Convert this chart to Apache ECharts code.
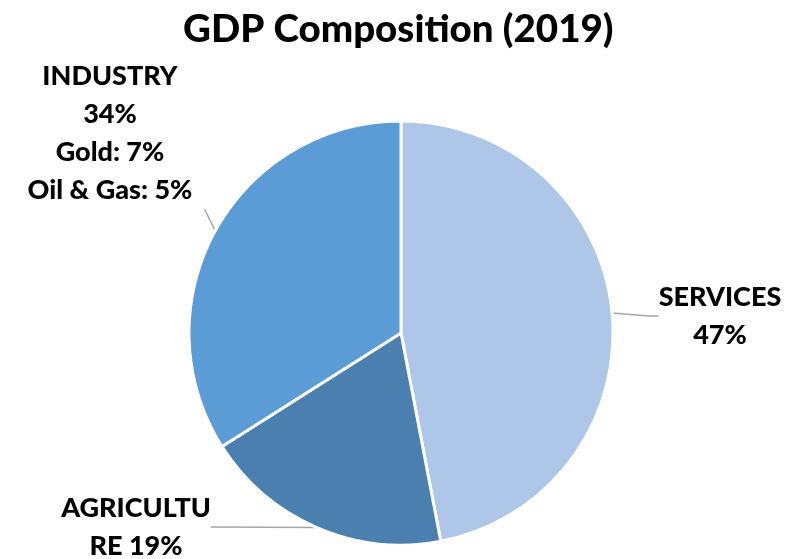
<!DOCTYPE html>
<html><head><meta charset="utf-8">
<script src="https://cdn.jsdelivr.net/npm/echarts@6/dist/echarts.min.js"></script>
<style>html,body{margin:0;padding:0;background:#fff}#c{width:785px;height:559px}</style>
</head><body><div id="c"></div>
<script>
const categories = ["SERVICES", "AGRICULTURE", "INDUSTRY"];
const values = [47, 19, 34];
const labelTexts = ["SERVICES\n47%", "AGRICULTU\nRE 19%", "INDUSTRY\n34%\nGold: 7%\nOil & Gas: 5%"];
const colors = ["#AEC6E7", "#4A7FB0", "#5B9BD6"];

const FONT = "Lato";
const labelPos = [
  {x: 720, y: 316, align: "center", verticalAlign: "middle"},
  {x: 136, y: 527, align: "center", verticalAlign: "middle"},
  {x: 290, y: 133, align: "center", verticalAlign: "middle"}
];
const itemLabel = [
  {},
  {},
  {padding: [0, 360, 0, 0]}
];
const itemLine = [
  {length2: 10},
  {length2: 0},
  {length2: 0}
];
const chart = echarts.init(document.getElementById('c'));
chart.setOption({
  animation: false,
  title: {
    text: "GDP Composition (2019)", left: 178, top: 5,
    textStyle: {fontFamily: FONT, fontWeight: 900, fontSize: 38.5, color: "#000"}
  },
  series: [{
    type: "pie",
    center: [401, 333],
    radius: [0, 212],
    startAngle: 90,
    clockwise: true,
    data: categories.map((c, i) => ({
      name: c, value: values[i], itemStyle: {color: colors[i]},
      label: itemLabel[i], labelLine: itemLine[i]
    })),
    itemStyle: {borderColor: "#fff", borderWidth: 3},
    label: {
      show: true, position: "outside", overflow: "none",
      formatter: p => labelTexts[p.dataIndex],
      fontFamily: FONT, fontWeight: 900, fontSize: 27, lineHeight: 38, color: "#000", align: "center"
    },
    labelLine: {show: true, length: 20, length2: 10, lineStyle: {color: "#A6A6A6", width: 1.5}},
    labelLayout: p => labelPos[p.dataIndex],
    emphasis: {disabled: true}
  }]
});
</script></body></html>
